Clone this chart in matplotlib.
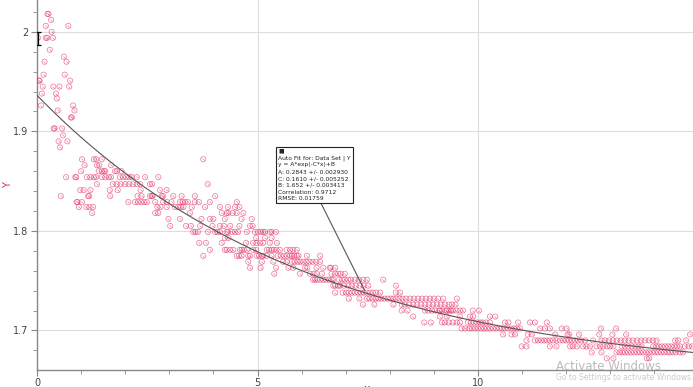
import numpy as np
import matplotlib
matplotlib.use("Agg")
import matplotlib.pyplot as plt
from matplotlib.ticker import MultipleLocator

# measured data, grouped by the discrete y level the sensor reports
row_y = [
    2.018, 2.012, 2.006, 2.000, 1.994, 1.982, 1.975, 1.970, 1.957, 1.951,
    1.945, 1.938, 1.933, 1.926, 1.921, 1.914, 1.903, 1.896, 1.890, 1.884,
    1.872, 1.866, 1.860, 1.854, 1.847, 1.841, 1.835, 1.829, 1.824, 1.818,
    1.812, 1.805, 1.799, 1.793, 1.788, 1.781, 1.775, 1.769, 1.763, 1.757,
    1.751, 1.745, 1.738, 1.732, 1.726, 1.720, 1.714, 1.708, 1.702, 1.696,
    1.690, 1.684, 1.678, 1.672,
]
row_x = [
    [0.24, 0.26],
    [0.32],
    [0.20, 0.71],
    [0.33],
    [0.02, 0.20, 0.23, 0.36],
    [0.29],
    [0.61],
    [0.17, 0.67],
    [0.15, 0.63],
    [0.04, 0.06, 0.75],
    [0.13, 0.37, 0.51, 0.73],
    [0.11, 0.43],
    [0.45],
    [0.09, 0.82],
    [0.47, 0.85],
    [0.77, 0.79],
    [0.38, 0.40, 0.57],
    [0.59],
    [0.49, 0.69],
    [0.52],
    [1.02, 1.29, 1.34, 1.47, 3.77],
    [1.08, 1.36, 1.41, 1.68],
    [1.00, 1.40, 1.47, 1.52, 1.55, 1.77, 1.81, 1.92],
    [0.66, 0.87, 0.89, 1.13, 1.21, 1.29, 1.34, 1.47, 1.55, 1.63, 1.68, 1.88,
     1.95, 2.02, 2.09, 2.15, 2.26, 2.45, 2.75],
    [1.36, 1.72, 1.81, 1.90, 2.00, 2.09, 2.18, 2.27, 2.34, 2.56, 2.61, 3.87],
    [0.98, 1.06, 1.21, 1.65, 1.83, 2.35, 2.79, 2.94],
    [0.54, 1.16, 1.18, 1.66, 2.28, 2.37, 2.56, 2.60, 2.62, 2.83, 2.86, 3.09,
     3.28, 3.58, 4.04],
    [0.90, 0.92, 1.02, 2.07, 2.22, 2.29, 2.36, 2.43, 2.49, 2.68, 2.86, 2.95,
     3.05, 3.24, 3.30, 3.36, 3.42, 3.58, 3.67, 3.92, 4.53],
    [0.95, 1.12, 1.19, 1.27, 2.73, 2.80, 2.94, 3.13, 3.20, 3.27, 3.32, 3.51,
     3.81, 4.15, 4.33, 4.49, 4.59],
    [1.25, 2.68, 2.75, 3.47, 4.19, 4.30, 4.34, 4.44, 4.53, 4.68],
    [2.98, 3.24, 3.73, 3.92, 4.00, 4.26, 4.64, 4.87],
    [3.02, 3.38, 3.49, 3.70, 3.98, 4.15, 4.24, 4.38, 4.59, 4.83, 4.89],
    [3.54, 3.59, 3.65, 3.88, 4.04, 4.09, 4.15, 4.30, 4.33, 4.42, 4.49, 4.56,
     4.76, 4.94, 5.01, 5.08, 5.13, 5.17, 5.28, 5.32, 5.42],
    [4.26, 4.34, 4.97, 5.17, 5.32],
    [3.68, 3.83, 4.19, 4.74, 4.90, 4.98, 5.06, 5.13, 5.28, 5.44],
    [3.92, 4.26, 4.30, 4.38, 4.45, 4.60, 4.64, 4.69, 4.76, 4.90, 4.97, 5.21,
     5.26, 5.32, 5.37, 5.43, 5.51, 5.66, 5.74, 5.81, 5.89],
    [3.77, 4.53, 4.58, 4.64, 4.79, 4.83, 4.98, 5.03, 5.10, 5.13, 5.21, 5.32,
     5.46, 5.53, 5.60, 5.67, 5.74, 5.78, 5.83, 5.89, 5.93, 6.12, 6.42],
    [4.79, 5.10, 5.36, 5.58, 5.66, 5.78, 5.84, 5.91, 5.97, 6.04, 6.11, 6.18,
     6.25, 6.33, 6.42],
    [4.83, 5.07, 5.42, 5.70, 5.81, 6.08, 6.13, 6.34, 6.49, 6.64, 6.66, 6.76],
    [5.38, 5.96, 6.19, 6.27, 6.34, 6.46, 6.68, 6.76, 6.83, 6.89, 6.98],
    [6.26, 6.30, 6.35, 6.42, 6.49, 6.55, 6.62, 6.68, 6.71, 6.85, 6.92, 6.98,
     7.06, 7.12, 7.21, 7.30, 7.40, 7.48, 7.85],
    [6.72, 6.76, 6.83, 6.87, 6.96, 7.06, 7.14, 7.23, 7.32, 7.41, 7.51, 8.14],
    [6.76, 6.93, 7.01, 7.07, 7.14, 7.21, 7.28, 7.35, 7.41, 7.48, 7.55, 7.62,
     7.69, 7.78, 8.14, 8.23],
    [7.07, 7.31, 7.48, 7.54, 7.61, 7.68, 7.74, 7.81, 7.88, 7.95, 8.02, 8.08,
     8.15, 8.22, 8.29, 8.37, 8.46, 8.55, 8.64, 8.73, 8.82, 8.91, 9.00, 9.10,
     9.21, 9.52],
    [7.39, 7.65, 8.08, 8.27, 8.34, 8.44, 8.53, 8.62, 8.71, 8.80, 8.89, 8.98,
     9.07, 9.16, 9.25, 9.34, 9.41, 9.49],
    [8.27, 8.40, 8.80, 8.88, 8.96, 9.03, 9.12, 9.14, 9.19, 9.27, 9.30, 9.35,
     9.39, 9.43, 9.51, 9.59, 9.66, 9.88, 10.02],
    [8.53, 9.14, 9.29, 9.59, 9.82, 9.89, 10.27, 10.39],
    [8.78, 8.93, 9.18, 9.25, 9.34, 9.43, 9.52, 9.59, 9.77, 9.84, 9.91, 9.98,
     10.05, 10.11, 10.18, 10.27, 10.61, 10.69, 10.91, 11.18, 11.29, 11.56],
    [9.63, 9.71, 9.80, 9.86, 9.93, 10.00, 10.07, 10.14, 10.20, 10.27, 10.34,
     10.41, 10.48, 10.54, 10.61, 10.68, 10.75, 10.82, 10.88, 10.95, 11.41,
     11.52, 11.63, 11.90, 12.01, 12.79, 13.13],
    [10.57, 10.76, 10.84, 11.13, 11.22, 11.75, 12.03, 12.07, 12.29, 12.75,
     13.05, 13.36, 14.81],
    [11.10, 11.29, 11.36, 11.43, 11.50, 11.56, 11.63, 11.70, 11.78, 11.86,
     11.93, 12.00, 12.06, 12.13, 12.20, 12.27, 12.34, 12.43, 12.61, 12.80,
     12.88, 12.97, 13.06, 13.15, 13.24, 13.33, 13.42, 13.51, 13.61, 13.70,
     13.79, 13.88, 13.97, 14.05, 14.47, 14.54, 14.72],
    [10.99, 11.10, 11.63, 11.78, 12.09, 12.15, 12.24, 12.38, 12.46, 12.54,
     12.69, 12.77, 12.84, 12.93, 12.99, 13.07, 13.26, 13.33, 13.41, 13.49,
     13.57, 13.64, 13.71, 13.97, 14.04, 14.10, 14.17, 14.24, 14.31, 14.38,
     14.45, 14.51, 14.58, 14.69, 14.78, 14.85],
    [12.58, 12.80, 13.14, 13.21, 13.27, 13.33, 13.40, 13.47, 13.54, 13.61,
     13.67, 13.74, 13.81, 13.88, 13.95, 14.01, 14.08, 14.15, 14.22, 14.29,
     14.35, 14.42, 14.49, 14.58, 14.65],
    [12.92, 13.07, 13.83, 13.88],
]

# auto fit y = A*exp(-C*x)+B, values from the fit box
fit_A, fit_C, fit_B = 0.2843, 0.1610, 1.652
fit_lines = [
    "▮▮",
    "Auto Fit for: Data Set | Y",
    "y = A*exp(-C*x)+B",
    "A: 0.2843 +/- 0.002930",
    "C: 0.1610 +/- 0.005252",
    "B: 1.652 +/- 0.003413",
    "Correlation: 0.9712",
    "RMSE: 0.01759",
]

xs = np.concatenate([np.array(r, dtype=float) for r in row_x])
ys = np.concatenate([np.full(len(r), yv) for r, yv in zip(row_x, row_y)])

plt.rcParams["font.family"] = "DejaVu Sans"
fig = plt.figure(figsize=(6.93, 3.87), dpi=100)
ax = fig.add_axes([37 / 693, 17 / 387, 656 / 693, 370 / 387])

xmax = 656 / 44.1
ax.set_xlim(0, xmax)
ax.set_ylim(1.6603, 2.032)

red = "#e3285f"
ax.scatter(xs, ys, s=14, facecolors="none", edgecolors=red, linewidths=0.55,
           alpha=0.6, zorder=3)
ax.scatter(xs, ys, s=3, marker=(2, 2, 45), color=red, linewidths=0.4,
           alpha=0.45, zorder=3)

xf = np.linspace(0, xmax, 300)
ax.plot(xf, fit_A * np.exp(-fit_C * xf) + fit_B, color="#555555", lw=0.8,
        zorder=4)

# little bracket on the first point
ax.errorbar([0.02], [1.993], yerr=[0.0065], color="black", lw=0.9,
            capsize=2.5, capthick=0.9, zorder=5)

ax.xaxis.set_major_locator(MultipleLocator(5))
ax.xaxis.set_minor_locator(MultipleLocator(1))
ax.yaxis.set_major_locator(MultipleLocator(0.1))
ax.yaxis.set_minor_locator(MultipleLocator(0.02))
ax.set_yticks([1.7, 1.8, 1.9, 2.0])
ax.set_yticklabels(["1.7", "1.8", "1.9", "2"])
ax.set_xticks([0, 5, 10])
ax.set_xticklabels(["0", "5", "10"])
ax.grid(True, which="major", color="#dddddd", lw=0.8)
ax.set_axisbelow(True)
for s in ("top", "right"):
    ax.spines[s].set_visible(False)
for s in ("left", "bottom"):
    ax.spines[s].set_color("#888888")
    ax.spines[s].set_linewidth(1.0)
ax.tick_params(which="both", colors="#888888", labelcolor="#444444",
               labelsize=7, pad=2)
ax.tick_params(which="major", length=4)
ax.tick_params(which="minor", length=3)

# fit info box with leader line to the curve
x_end = 7.46
ax.annotate("", xy=(x_end, fit_A * np.exp(-fit_C * x_end) + fit_B),
            xytext=(6.37, 1.834),
            arrowprops=dict(arrowstyle="-", color="#555555", lw=0.8),
            zorder=6)
ax.text(5.47, 1.883, "\n".join(fit_lines), fontsize=4.3, va="top",
        ha="left", color="#222222", linespacing=1.45, zorder=7,
        bbox=dict(boxstyle="square,pad=0.3", fc="white", ec="#222222",
                  lw=0.8))

fig.text(8 / 693, 1 - 185 / 387, "Y", rotation=90, color="#d0304f",
         fontsize=7, ha="center", va="center")
fig.text(367 / 693, -0.006, "x", color="#444444", fontsize=8, ha="center",
         va="center")

fig.text(556 / 693, 1 - 366 / 387, "Activate Windows", color="#bbbbbb",
         fontsize=8.5, ha="left", va="center")
fig.text(556 / 693, 1 - 378 / 387, "Go to Settings to activate Windows.",
         color="#cccccc", fontsize=5.5, ha="left", va="center")

fig.savefig("out.png", dpi=100)
